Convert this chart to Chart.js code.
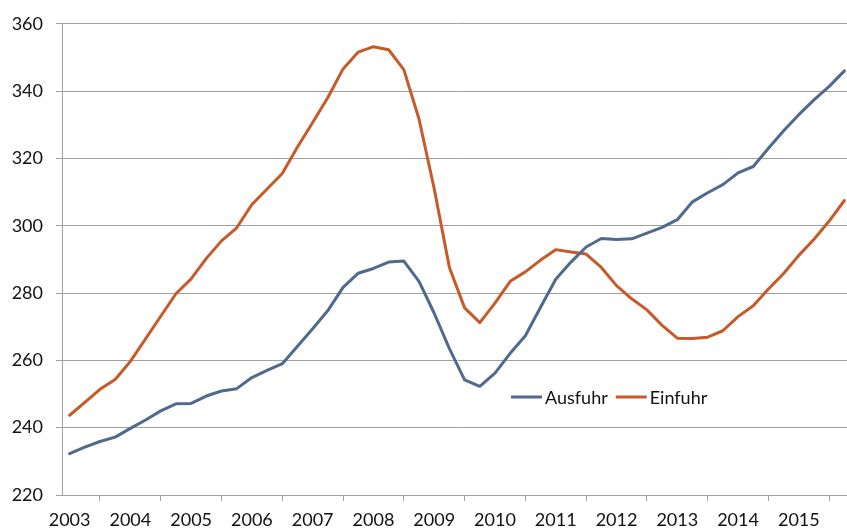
<!DOCTYPE html>
<html>
<head>
<meta charset="utf-8">
<script src="https://cdn.jsdelivr.net/npm/chart.js@4/dist/chart.umd.min.js"></script>
<style>
  html, body { margin: 0; padding: 0; background: #fff; overflow: hidden; }
  #wrap { width: 852px; height: 532px; }
</style>
</head>
<body>
<div id="wrap"><canvas id="chart" width="852" height="532"></canvas></div>
<script>
// quarterly values, 2003 Q1 .. 2015 Q4
const years = ['2003', '2004', '2005', '2006', '2007', '2008', '2009',
               '2010', '2011', '2012', '2013', '2014', '2015'];
const quarterNames = ['Q1', 'Q2', 'Q3', 'Q4'];

const ausfuhr = [
    232.3, 234.2, 235.9, 237.2, 239.8, 242.3, 245.0, 247.1,
    247.2, 249.4, 250.9, 251.6, 254.9, 257.0, 259.0, 264.2,
    269.4, 274.8, 281.7, 285.9, 287.3, 289.2, 289.5, 283.5,
    274.0, 263.5, 254.2, 252.3, 256.2, 262.1, 267.3, 275.8,
    284.1, 289.2, 293.7, 296.2, 295.9, 296.1, 297.8, 299.5,
    301.8, 307.1, 309.8, 312.2, 315.7, 317.6, 323.0, 328.2,
    333.0, 337.4, 341.4, 346.0
];
const einfuhr = [
    243.7, 247.5, 251.4, 254.3, 259.7, 266.4, 273.1, 279.8,
    284.2, 290.3, 295.5, 299.4, 306.3, 310.9, 315.5, 323.4,
    330.7, 338.1, 346.6, 351.6, 353.2, 352.3, 346.4, 331.7,
    311.0, 287.6, 275.6, 271.2, 277.0, 283.5, 286.3, 289.8,
    292.9, 292.2, 291.6, 287.6, 282.2, 278.3, 275.0, 270.4,
    266.6, 266.5, 266.9, 268.8, 273.0, 276.2, 281.2, 285.8,
    291.2, 296.0, 301.4, 307.5
];
const yTicks = [220, 240, 260, 280, 300, 320, 340, 360];

let labels = [];
years.forEach(y => {
    quarterNames.forEach(q => labels.push(y + ' ' + q));
});

const font = { family: 'Lato', size: 18 };
const textColor = '#111';
const gridColor = '#a0a0a0';

// legend drawn inside the plot, like the original
const innerLegend = {
    id: 'innerLegend',
    afterDraw(chart, args, opts) {
        let ctx = chart.ctx;
        ctx.save();
        ctx.font = font.size + 'px ' + font.family;
        ctx.textBaseline = 'middle';
        ctx.fillStyle = textColor;
        let x = opts.x;
        chart.data.datasets.forEach(ds => {
            ctx.strokeStyle = ds.borderColor;
            ctx.lineWidth = 3;
            ctx.beginPath();
            ctx.moveTo(x, opts.y);
            ctx.lineTo(x + opts.lineLen, opts.y);
            ctx.stroke();
            x += opts.lineLen + 3;
            ctx.fillText(ds.label, x, opts.y + 1);
            x += ctx.measureText(ds.label).width + 8;
        });
        ctx.restore();
    }
};

const ctx = document.getElementById('chart').getContext('2d');
const chart = new Chart(ctx, {
    type: 'line',
    data: {
        labels: labels,
        datasets: [
        {
            label: 'Ausfuhr',
            data: ausfuhr,
            borderColor: '#50698d',
            borderWidth: 3,
            pointRadius: 0,
            tension: 0,
            borderJoinStyle: 'round',
            borderCapStyle: 'round'
        },
        {
            label: 'Einfuhr',
            data: einfuhr,
            borderColor: '#c65a28',
            borderWidth: 3,
            pointRadius: 0,
            tension: 0,
            borderJoinStyle: 'round',
            borderCapStyle: 'round'
        }]
    },
    options: {
        responsive: false,
        animation: false,
        devicePixelRatio: 1,
        layout: { padding: { top: 19, right: 0, left: 0, bottom: 0 } },
        plugins: {
            legend: { display: false },
            tooltip: { enabled: false },
            innerLegend: { x: 511, y: 397, lineLen: 31 }
        },
        scales: {
            x: {
                offset: true,
                grid: {
                    offset: true,
                    drawOnChartArea: false,
                    drawTicks: true,
                    tickLength: 6,
                    color: gridColor
                },
                border: { color: gridColor },
                ticks: {
                    autoSkip: false,
                    maxRotation: 0,
                    padding: 8,
                    color: textColor,
                    font: font,
                    callback: (val, i) => i % 4 === 0 ? years[i / 4] : null
                },
                afterFit: scale => { scale.height = 37; }
            },
            y: {
                min: 220,
                max: 360,
                afterBuildTicks: scale => {
                    scale.ticks = yTicks.map(v => ({ value: v }));
                },
                grid: {
                    color: gridColor,
                    tickLength: 6
                },
                border: { color: gridColor },
                ticks: {
                    padding: 13,
                    color: textColor,
                    font: font
                },
                afterFit: scale => { scale.width = 62; }
            }
        }
    },
    plugins: [innerLegend]
});
</script>
</body>
</html>
